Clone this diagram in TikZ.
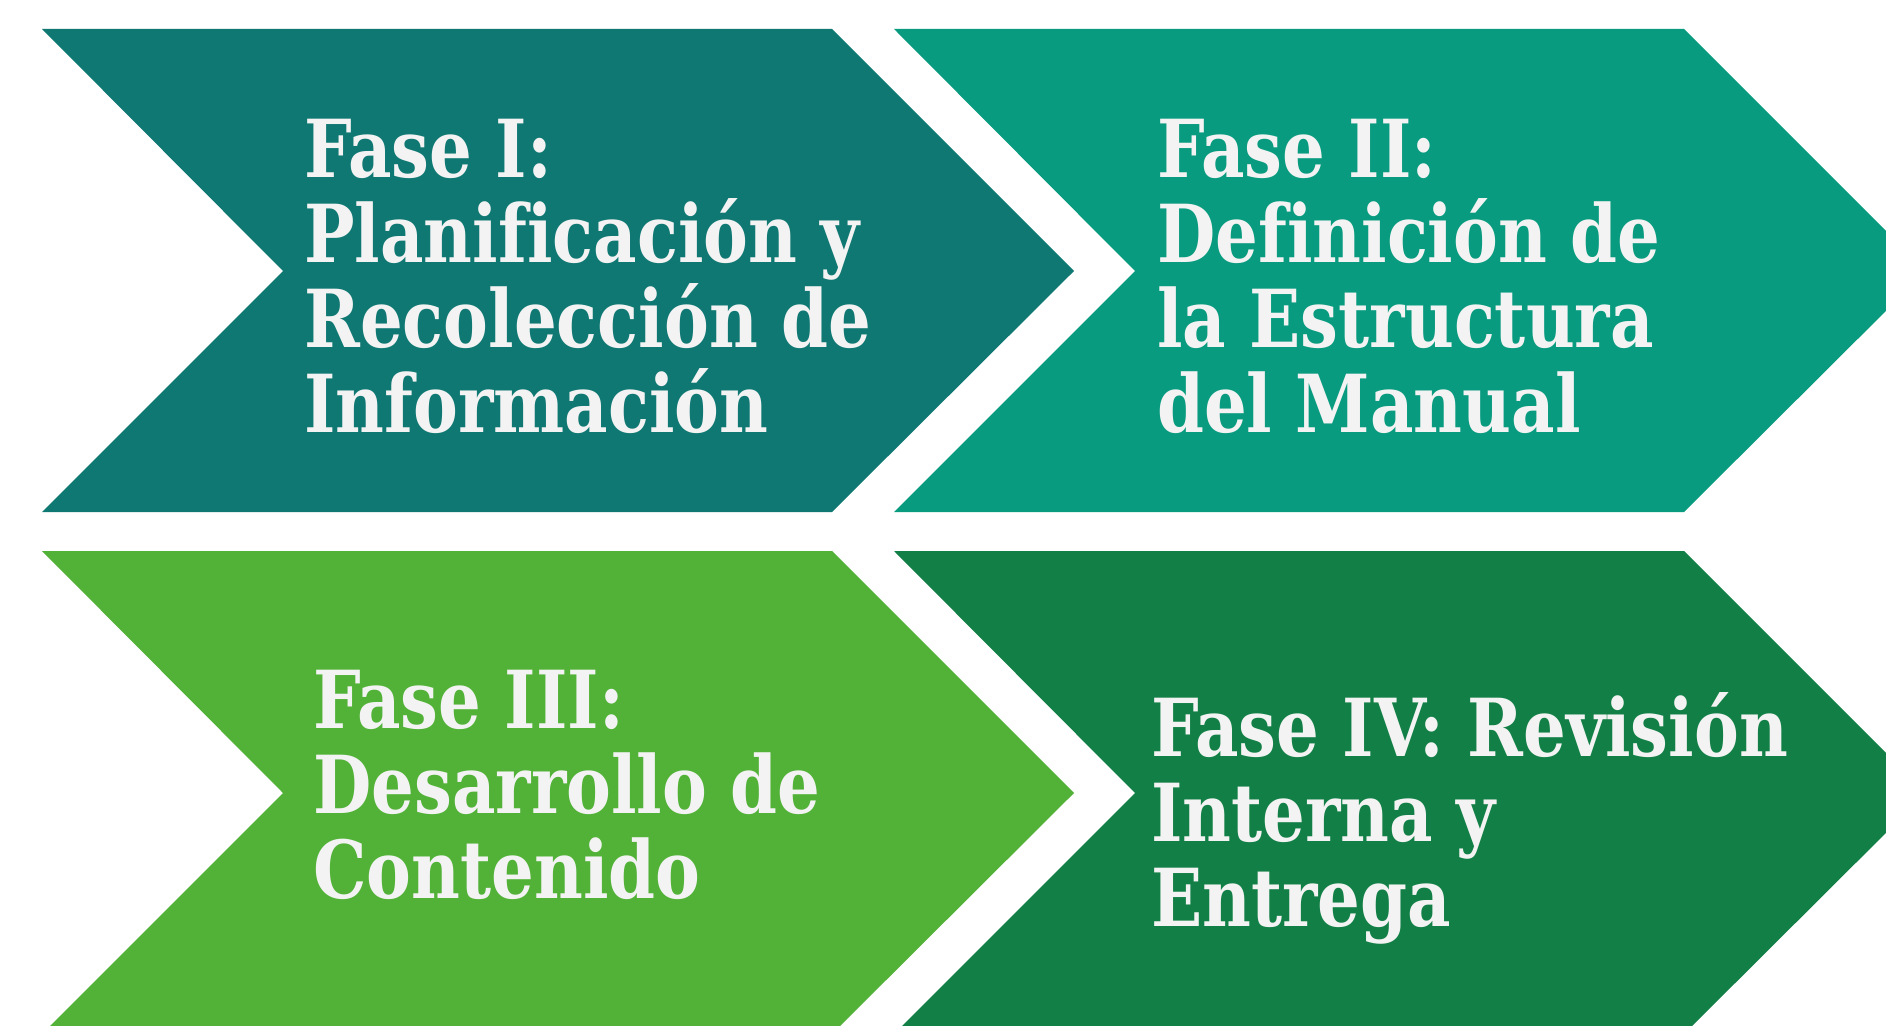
\documentclass[tikz,border=0pt]{standalone}
\usepackage{fontspec}
\newfontfamily\slab{DejaVu Serif}[FakeStretch=0.84,Ligatures=NoCommon]
\definecolor{cA}{RGB}{16,120,115}
\definecolor{cB}{RGB}{9,155,127}
\definecolor{cC}{RGB}{82,178,56}
\definecolor{cD}{RGB}{18,128,70}
\definecolor{txt}{RGB}{243,243,243}
\tikzset{
  phase/.style={anchor=base west, align=left, inner sep=0pt, text=txt,
    font=\slab\bfseries\fontsize{80}{85}\selectfont}
}
\begin{document}
\begin{tikzpicture}[x=1pt,y=-1pt]
\useasboundingbox (0,0) rectangle (1886,1025);
\clip (0,0) rectangle (1886,1025);
\fill[white] (0,0) rectangle (1886,1025);
\fill[cA] (42,29) -- (832,29) -- (1074,271) -- (832,512) -- (42,512) -- (283,271) -- cycle;
\fill[cB] (894,29) -- (1684,29) -- (1926,271) -- (1684,512) -- (894,512) -- (1135,271) -- cycle;
\fill[cC] (42,551) -- (832,551) -- (1074,793) -- (832,1034) -- (42,1034) -- (283,793) -- cycle;
\fill[cD] (894,551) -- (1684,551) -- (1926,793) -- (1684,1034) -- (894,1034) -- (1135,793) -- cycle;
\node[phase] (t1) at (304,432) {Fase I:\\Planificación y\\Recolección de\\Información};
\node[phase] (t2) at (1157,432) {Fase II:\\Definición de\\la Estructura\\del Manual};
\node[phase] (t3) at (313,898) {Fase III:\\Desarrollo de\\Contenido};
\node[phase] (t4) at (1151,926) {Fase IV: Revisión\\Interna y\\Entrega};
\end{tikzpicture}
\end{document}
